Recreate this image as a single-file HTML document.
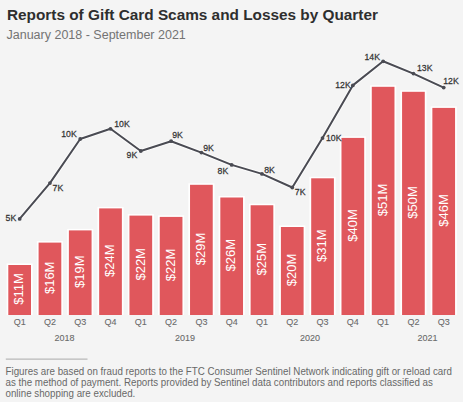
<!DOCTYPE html>
<html><head><meta charset="utf-8"><style>
html,body{margin:0;padding:0;background:#f4f4f4;}
body{width:463px;height:402px;overflow:hidden;position:relative;font-family:"Liberation Sans",sans-serif;}
svg{position:absolute;left:0;top:0;}
</style></head><body>
<svg width="463" height="402" viewBox="0 0 463 402" font-family="Liberation Sans, sans-serif">
<rect x="0" y="0" width="463" height="402" fill="#f4f4f4"/>
<text x="7" y="20.4" font-size="15.35" font-weight="bold" fill="#2e2e2e">Reports of Gift Card Scams and Losses by Quarter</text>
<text x="6.5" y="39.4" font-size="12.5" fill="#737373">January 2018 - September 2021</text>
<rect x="6.60" y="263.50" width="26.10" height="51.50" fill="#ffffff"/>
<rect x="8.30" y="265.00" width="22.7" height="50.00" fill="#e0575c"/>
<text transform="translate(23.45,289.00) rotate(-90)" text-anchor="middle" font-size="13" fill="#ffffff">$11M</text>
<rect x="36.89" y="241.10" width="26.10" height="73.90" fill="#ffffff"/>
<rect x="38.59" y="242.60" width="22.7" height="72.40" fill="#e0575c"/>
<text transform="translate(53.74,277.80) rotate(-90)" text-anchor="middle" font-size="13" fill="#ffffff">$16M</text>
<rect x="67.18" y="228.90" width="26.10" height="86.10" fill="#ffffff"/>
<rect x="68.88" y="230.40" width="22.7" height="84.60" fill="#e0575c"/>
<text transform="translate(84.03,271.70) rotate(-90)" text-anchor="middle" font-size="13" fill="#ffffff">$19M</text>
<rect x="97.47" y="206.90" width="26.10" height="108.10" fill="#ffffff"/>
<rect x="99.17" y="208.40" width="22.7" height="106.60" fill="#e0575c"/>
<text transform="translate(114.32,260.70) rotate(-90)" text-anchor="middle" font-size="13" fill="#ffffff">$24M</text>
<rect x="127.76" y="214.10" width="26.10" height="100.90" fill="#ffffff"/>
<rect x="129.46" y="215.60" width="22.7" height="99.40" fill="#e0575c"/>
<text transform="translate(144.61,264.30) rotate(-90)" text-anchor="middle" font-size="13" fill="#ffffff">$22M</text>
<rect x="158.05" y="215.40" width="26.10" height="99.60" fill="#ffffff"/>
<rect x="159.75" y="216.90" width="22.7" height="98.10" fill="#e0575c"/>
<text transform="translate(174.90,264.95) rotate(-90)" text-anchor="middle" font-size="13" fill="#ffffff">$22M</text>
<rect x="188.34" y="183.30" width="26.10" height="131.70" fill="#ffffff"/>
<rect x="190.04" y="184.80" width="22.7" height="130.20" fill="#e0575c"/>
<text transform="translate(205.19,248.90) rotate(-90)" text-anchor="middle" font-size="13" fill="#ffffff">$29M</text>
<rect x="218.63" y="196.00" width="26.10" height="119.00" fill="#ffffff"/>
<rect x="220.33" y="197.50" width="22.7" height="117.50" fill="#e0575c"/>
<text transform="translate(235.48,255.25) rotate(-90)" text-anchor="middle" font-size="13" fill="#ffffff">$26M</text>
<rect x="248.92" y="203.75" width="26.10" height="111.25" fill="#ffffff"/>
<rect x="250.62" y="205.25" width="22.7" height="109.75" fill="#e0575c"/>
<text transform="translate(265.77,259.12) rotate(-90)" text-anchor="middle" font-size="13" fill="#ffffff">$25M</text>
<rect x="279.21" y="225.50" width="26.10" height="89.50" fill="#ffffff"/>
<rect x="280.91" y="227.00" width="22.7" height="88.00" fill="#e0575c"/>
<text transform="translate(296.06,270.00) rotate(-90)" text-anchor="middle" font-size="13" fill="#ffffff">$20M</text>
<rect x="309.50" y="176.80" width="26.10" height="138.20" fill="#ffffff"/>
<rect x="311.20" y="178.30" width="22.7" height="136.70" fill="#e0575c"/>
<text transform="translate(326.35,245.65) rotate(-90)" text-anchor="middle" font-size="13" fill="#ffffff">$31M</text>
<rect x="339.79" y="136.40" width="26.10" height="178.60" fill="#ffffff"/>
<rect x="341.49" y="137.90" width="22.7" height="177.10" fill="#e0575c"/>
<text transform="translate(356.64,225.45) rotate(-90)" text-anchor="middle" font-size="13" fill="#ffffff">$40M</text>
<rect x="370.08" y="85.30" width="26.10" height="229.70" fill="#ffffff"/>
<rect x="371.78" y="86.80" width="22.7" height="228.20" fill="#e0575c"/>
<text transform="translate(386.93,199.90) rotate(-90)" text-anchor="middle" font-size="13" fill="#ffffff">$51M</text>
<rect x="400.37" y="90.30" width="26.10" height="224.70" fill="#ffffff"/>
<rect x="402.07" y="91.80" width="22.7" height="223.20" fill="#e0575c"/>
<text transform="translate(417.22,202.40) rotate(-90)" text-anchor="middle" font-size="13" fill="#ffffff">$50M</text>
<rect x="430.66" y="106.40" width="26.10" height="208.60" fill="#ffffff"/>
<rect x="432.36" y="107.90" width="22.7" height="207.10" fill="#e0575c"/>
<text transform="translate(447.51,210.45) rotate(-90)" text-anchor="middle" font-size="13" fill="#ffffff">$46M</text>
<text transform="translate(19.65,324.60) scale(0.92,1)" text-anchor="middle" font-size="9.8" fill="#6a6a6a" stroke="#6a6a6a" stroke-width="0.1">Q1</text>
<text transform="translate(49.94,324.60) scale(0.92,1)" text-anchor="middle" font-size="9.8" fill="#6a6a6a" stroke="#6a6a6a" stroke-width="0.1">Q2</text>
<text transform="translate(80.23,324.60) scale(0.92,1)" text-anchor="middle" font-size="9.8" fill="#6a6a6a" stroke="#6a6a6a" stroke-width="0.1">Q3</text>
<text transform="translate(110.52,324.60) scale(0.92,1)" text-anchor="middle" font-size="9.8" fill="#6a6a6a" stroke="#6a6a6a" stroke-width="0.1">Q4</text>
<text transform="translate(140.81,324.60) scale(0.92,1)" text-anchor="middle" font-size="9.8" fill="#6a6a6a" stroke="#6a6a6a" stroke-width="0.1">Q1</text>
<text transform="translate(171.10,324.60) scale(0.92,1)" text-anchor="middle" font-size="9.8" fill="#6a6a6a" stroke="#6a6a6a" stroke-width="0.1">Q2</text>
<text transform="translate(201.39,324.60) scale(0.92,1)" text-anchor="middle" font-size="9.8" fill="#6a6a6a" stroke="#6a6a6a" stroke-width="0.1">Q3</text>
<text transform="translate(231.68,324.60) scale(0.92,1)" text-anchor="middle" font-size="9.8" fill="#6a6a6a" stroke="#6a6a6a" stroke-width="0.1">Q4</text>
<text transform="translate(261.97,324.60) scale(0.92,1)" text-anchor="middle" font-size="9.8" fill="#6a6a6a" stroke="#6a6a6a" stroke-width="0.1">Q1</text>
<text transform="translate(292.26,324.60) scale(0.92,1)" text-anchor="middle" font-size="9.8" fill="#6a6a6a" stroke="#6a6a6a" stroke-width="0.1">Q2</text>
<text transform="translate(322.55,324.60) scale(0.92,1)" text-anchor="middle" font-size="9.8" fill="#6a6a6a" stroke="#6a6a6a" stroke-width="0.1">Q3</text>
<text transform="translate(352.84,324.60) scale(0.92,1)" text-anchor="middle" font-size="9.8" fill="#6a6a6a" stroke="#6a6a6a" stroke-width="0.1">Q4</text>
<text transform="translate(383.13,324.60) scale(0.92,1)" text-anchor="middle" font-size="9.8" fill="#6a6a6a" stroke="#6a6a6a" stroke-width="0.1">Q1</text>
<text transform="translate(413.42,324.60) scale(0.92,1)" text-anchor="middle" font-size="9.8" fill="#6a6a6a" stroke="#6a6a6a" stroke-width="0.1">Q2</text>
<text transform="translate(443.71,324.60) scale(0.92,1)" text-anchor="middle" font-size="9.8" fill="#6a6a6a" stroke="#6a6a6a" stroke-width="0.1">Q3</text>
<text transform="translate(64.40,340.60) scale(0.92,1)" text-anchor="middle" font-size="9.8" fill="#6a6a6a" stroke="#6a6a6a" stroke-width="0.1">2018</text>
<text transform="translate(185.10,340.60) scale(0.92,1)" text-anchor="middle" font-size="9.8" fill="#6a6a6a" stroke="#6a6a6a" stroke-width="0.1">2019</text>
<text transform="translate(310.10,340.60) scale(0.92,1)" text-anchor="middle" font-size="9.8" fill="#6a6a6a" stroke="#6a6a6a" stroke-width="0.1">2020</text>
<text transform="translate(427.60,340.60) scale(0.92,1)" text-anchor="middle" font-size="9.8" fill="#6a6a6a" stroke="#6a6a6a" stroke-width="0.1">2021</text>
<path d="M19.6,218.9 L49.9,183.1 L80.2,139.0 L110.5,128.8 L140.8,151.0 L171.1,141.2 L201.4,152.6 L231.7,164.9 L262.0,173.9 L292.3,187.5 L322.5,138.1 L352.8,85.4 L383.1,61.3 L413.4,73.6 L443.7,87.6" fill="none" stroke="#ffffff" stroke-opacity="0.8" stroke-width="3.8" stroke-linejoin="round"/>
<path d="M19.6,218.9 L49.9,183.1 L80.2,139.0 L110.5,128.8 L140.8,151.0 L171.1,141.2 L201.4,152.6 L231.7,164.9 L262.0,173.9 L292.3,187.5 L322.5,138.1 L352.8,85.4 L383.1,61.3 L413.4,73.6 L443.7,87.6" fill="none" stroke="#4a4b53" stroke-width="2.0" stroke-linejoin="round"/>
<circle cx="19.65" cy="218.9" r="1.9" fill="#4a4b53"/>
<circle cx="49.94" cy="183.1" r="1.9" fill="#4a4b53"/>
<circle cx="80.22999999999999" cy="139.0" r="1.9" fill="#4a4b53"/>
<circle cx="110.52000000000001" cy="128.8" r="1.9" fill="#4a4b53"/>
<circle cx="140.81" cy="151.0" r="1.9" fill="#4a4b53"/>
<circle cx="171.1" cy="141.2" r="1.9" fill="#4a4b53"/>
<circle cx="201.39000000000001" cy="152.6" r="1.9" fill="#4a4b53"/>
<circle cx="231.68" cy="164.9" r="1.9" fill="#4a4b53"/>
<circle cx="261.96999999999997" cy="173.9" r="1.9" fill="#4a4b53"/>
<circle cx="292.26" cy="187.5" r="1.9" fill="#4a4b53"/>
<circle cx="322.54999999999995" cy="138.1" r="1.9" fill="#4a4b53"/>
<circle cx="352.84" cy="85.4" r="1.9" fill="#4a4b53"/>
<circle cx="383.13" cy="61.3" r="1.9" fill="#4a4b53"/>
<circle cx="413.41999999999996" cy="73.6" r="1.9" fill="#4a4b53"/>
<circle cx="443.71" cy="87.6" r="1.9" fill="#4a4b53"/>
<text transform="translate(5.60,221.20) scale(0.89,1)" font-size="9.8" fill="#333333" stroke="#333333" stroke-width="0.25">5K</text>
<text transform="translate(52.60,191.20) scale(0.89,1)" font-size="9.8" fill="#333333" stroke="#333333" stroke-width="0.25">7K</text>
<text transform="translate(61.20,137.20) scale(0.89,1)" font-size="9.8" fill="#333333" stroke="#333333" stroke-width="0.25">10K</text>
<text transform="translate(114.20,127.10) scale(0.89,1)" font-size="9.8" fill="#333333" stroke="#333333" stroke-width="0.25">10K</text>
<text transform="translate(126.60,157.50) scale(0.89,1)" font-size="9.8" fill="#333333" stroke="#333333" stroke-width="0.25">9K</text>
<text transform="translate(172.20,138.00) scale(0.89,1)" font-size="9.8" fill="#333333" stroke="#333333" stroke-width="0.25">9K</text>
<text transform="translate(203.20,151.30) scale(0.89,1)" font-size="9.8" fill="#333333" stroke="#333333" stroke-width="0.25">9K</text>
<text transform="translate(217.60,173.90) scale(0.89,1)" font-size="9.8" fill="#333333" stroke="#333333" stroke-width="0.25">8K</text>
<text transform="translate(264.20,172.60) scale(0.89,1)" font-size="9.8" fill="#333333" stroke="#333333" stroke-width="0.25">8K</text>
<text transform="translate(294.80,194.80) scale(0.89,1)" font-size="9.8" fill="#333333" stroke="#333333" stroke-width="0.25">7K</text>
<text transform="translate(326.00,140.90) scale(0.89,1)" font-size="9.8" fill="#333333" stroke="#333333" stroke-width="0.25">10K</text>
<text transform="translate(335.20,87.90) scale(0.89,1)" font-size="9.8" fill="#333333" stroke="#333333" stroke-width="0.25">12K</text>
<text transform="translate(364.50,60.00) scale(0.89,1)" font-size="9.8" fill="#333333" stroke="#333333" stroke-width="0.25">14K</text>
<text transform="translate(417.00,70.90) scale(0.89,1)" font-size="9.8" fill="#333333" stroke="#333333" stroke-width="0.25">13K</text>
<text transform="translate(443.20,83.60) scale(0.89,1)" font-size="9.8" fill="#333333" stroke="#333333" stroke-width="0.25">12K</text>
<rect x="5.8" y="358.6" width="81.7" height="1" fill="#aaaaaa"/>
<text transform="translate(5.50,374.90) scale(0.95,1)" font-size="10.3" fill="#686868">Figures are based on fraud reports to the FTC Consumer Sentinel Network indicating gift or reload card</text>
<text transform="translate(5.50,386.10) scale(0.95,1)" font-size="10.3" fill="#686868">as the method of payment. Reports provided by Sentinel data contributors and reports classified as</text>
<text transform="translate(5.50,397.30) scale(0.95,1)" font-size="10.3" fill="#686868">online shopping are excluded.</text>
</svg></body></html>
